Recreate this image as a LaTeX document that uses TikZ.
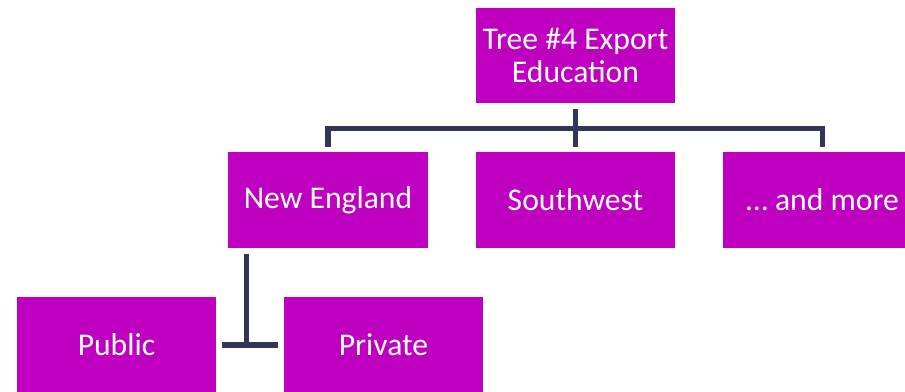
\documentclass[tikz,border=0pt]{standalone}
\usepackage{fontspec}
\setmainfont{Carlito}
\usepackage{tikz}
\usetikzlibrary{positioning}
\definecolor{boxColor}{RGB}{192,0,192}
\definecolor{linkColor}{RGB}{50,54,88}
\tikzstyle{chart} = [x = .025cm, y = -.025cm]
\tikzstyle{boxStyle} = [fill=boxColor, draw=none, text=white, minimum width=4.975cm, minimum height=2.375cm, inner sep=0pt, align=center, font=\fontsize{22.5}{24}\selectfont]
\tikzstyle{linkStyle} = [draw=linkColor, line width=3.6pt]
\newcommand{\gap}{4.25pt}

\begin{document}
\begin{tikzpicture}[chart]
        \useasboundingbox (0,0) rectangle (905,392);

        % boxes
        \node [boxStyle] (tree) at (575.5,55.5) {Tree \#4 Export\\Education};
        \node [boxStyle] (newEngland) at (328,200) {New England};
        \node [boxStyle] (southwest) at (575.5,200) {Southwest};
        \node [boxStyle] (andMore) at (822.5,200) {\dots{} and more};
        \node [boxStyle] (public) at (116.5,345) {Public};
        \node [boxStyle] (private) at (383.5,345) {Private};

        % top bracket
        \draw [linkStyle] (tree.south) ++(0,6) -- ++(0,38);
        \draw [linkStyle] (newEngland.north) ++(0,-5) -- ++(0,-19) coordinate (barLeft)
          -- (barLeft -| andMore.north) -- ++(0,19);

        % bottom bracket
        \draw [linkStyle] (newEngland.south west) ++(18,6) coordinate (neFoot) -- (neFoot |- public.east);
        \draw [linkStyle, shorten <=\gap, shorten >=\gap] (public.east) -- (private.west);
      \end{tikzpicture}
\end{document}
